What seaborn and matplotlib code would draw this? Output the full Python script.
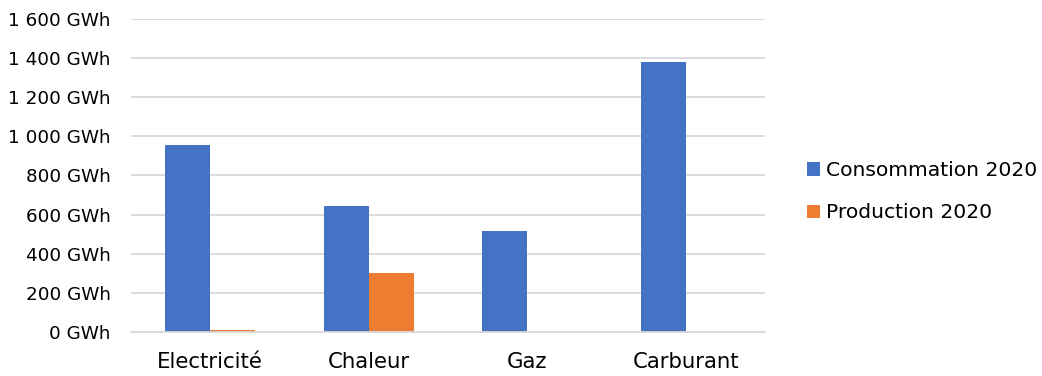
import matplotlib
matplotlib.use("Agg")
import matplotlib.pyplot as plt
import seaborn as sns
import pandas as pd
from matplotlib.ticker import FuncFormatter, MultipleLocator

categories = ["Electricité", "Chaleur", "Gaz", "Carburant"]
consommation_2020 = [958, 642, 515, 1381]
production_2020 = [12, 302, 0, 0]
series_names = ["Consommation 2020", "Production 2020"]
colors = ["#4472C4", "#ED7D31"]

df = pd.DataFrame({
    "categorie": categories * 2,
    "valeur": consommation_2020 + production_2020,
    "serie": [series_names[0]] * len(categories) + [series_names[1]] * len(categories),
})

sns.set_theme(style="white")
plt.rcParams["font.family"] = ["DejaVu Sans"]
plt.rcParams["text.color"] = "#000000"

fig = plt.figure(figsize=(10.42, 3.76), dpi=100)
ax = fig.add_axes([0.1257, 0.1162, 0.6085, 0.8341])

sns.barplot(data=df, x="categorie", y="valeur", hue="serie", order=categories,
            hue_order=series_names, palette=colors, width=0.57, linewidth=0,
            saturation=1, ax=ax, legend=True)

ax.set_xlim(-0.5, 3.5)
ax.set_ylim(0, 1600)
ax.yaxis.set_major_locator(MultipleLocator(200))
ax.yaxis.set_major_formatter(FuncFormatter(
    lambda v, _: f"{int(v):,} GWh".replace(",", " ")))
ax.grid(axis="y", color="#D9D9D9", linewidth=1.3)
ax.set_axisbelow(True)
for side in ["top", "right", "left"]:
    ax.spines[side].set_visible(False)
ax.spines["bottom"].set_color("#D9D9D9")
ax.spines["bottom"].set_linewidth(1.3)
ax.tick_params(axis="y", length=0, pad=14.5, labelsize=13.2, labelcolor="#000000")
ax.tick_params(axis="x", length=0, pad=14, labelsize=15.3, labelcolor="#000000")
ax.set_xlabel("")
ax.set_ylabel("")

handles, labels = ax.get_legend_handles_labels()
ax.legend(handles, labels, loc="center left", bbox_to_anchor=(0.7745, 0.49),
          bbox_transform=fig.transFigure, frameon=False, fontsize=14.6,
          handlelength=0.62, handleheight=0.62, handletextpad=0.3,
          labelspacing=1.15, borderaxespad=0, borderpad=0)

fig.savefig("out.png", dpi=100)
